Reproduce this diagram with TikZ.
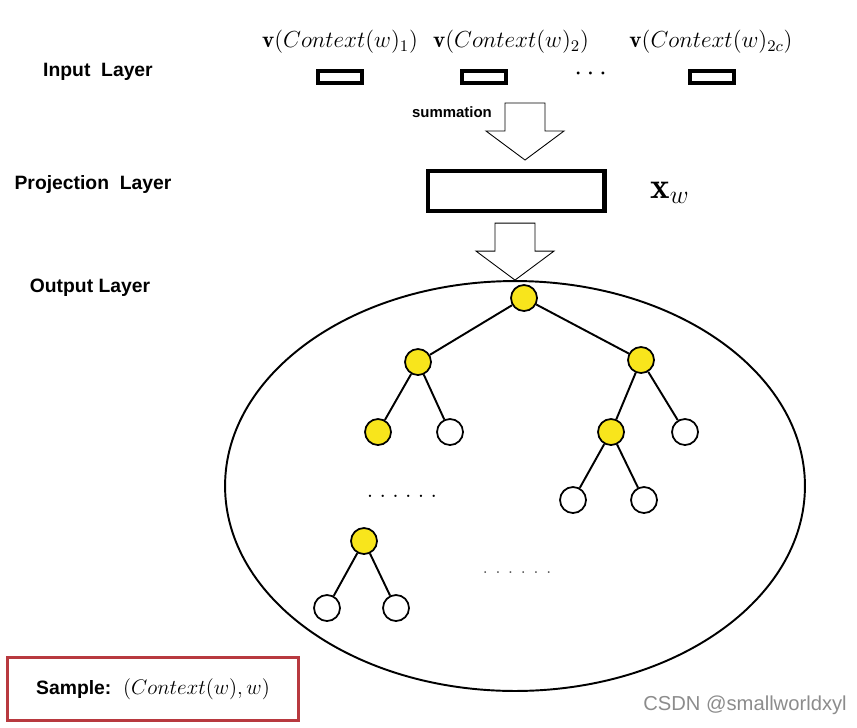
\RequirePackage{fix-cm}
\documentclass[tikz,border=0pt]{standalone}
\usepackage{fontspec}
\usepackage{amsmath}
\usepackage{tikz}
\usetikzlibrary{positioning,shapes.geometric,calc}
\newfontfamily\labelfont{Liberation Sans}
\definecolor{hsyellow}{HTML}{F8E51C}
\definecolor{samplered}{HTML}{B8393F}

\begin{document}
\begin{tikzpicture}[x=0.02cm, y=-0.02cm,
    layer/.style={font=\labelfont\bfseries\fontsize{11}{13}\selectfont},
    ctxlbl/.style={font=\fontsize{13.2}{15}\selectfont},
    inbox/.style={draw, line width=2.1pt, minimum width=0.88cm, minimum height=0.24cm, inner sep=0pt},
    hnode/.style={circle, draw, line width=1pt, minimum size=0.52cm, inner sep=0pt},
    onpath/.style={hnode, fill=hsyellow},
    leaf/.style={hnode, fill=white},
    branch/.style={line width=1.1pt},
    blockarrow/.style={draw, line width=0.5pt, fill=white}]
    \useasboundingbox (0,0) rectangle (857,727);

    % layer names
    \node[layer] (inlbl) at (98,72) {Input\ \ Layer};
    \node[layer] (projlbl) at (93,184) {Projection\ \ Layer};
    \node[layer] (outlbl) at (90,288) {Output Layer};

    % input layer
    \node[ctxlbl] (ctx1) at (340,42) {$\mathbf{v}(Context(w)_1)$};
    \node[ctxlbl] (ctx2) at (511,42) {$\mathbf{v}(Context(w)_2)$};
    \node[ctxlbl] (ctx3) at (711,42) {$\mathbf{v}(Context(w)_{2c})$};
    \foreach \i/\x in {1/340, 2/484, 3/712}
      \node[inbox] (in\i) at (\x,77) {};
    \node[font=\fontsize{16}{18}\selectfont] (indots) at (593,74) {$\cdots$};

    % projection layer
    \node[draw, line width=2.3pt, minimum width=3.54cm, minimum height=0.8cm] (proj) at (516,191) {};
    \node[font=\fontsize{21}{24}\selectfont] (xw) at (670,193) {$\mathbf{x}_w$};
    \node[font=\labelfont\bfseries\fontsize{8.5}{10}\selectfont] (sumlbl) at (452,112) {summation};

    % output layer
    \node[draw, ellipse, line width=1.1pt, minimum width=11.6cm, minimum height=8.2cm] (outer) at (515,486) {};

    \coordinate (tip1) at (525,160);
    \coordinate (tip2) at (outer.north);
    \foreach \t in {tip1,tip2}
      \draw[blockarrow] ($(\t)+(-20,-57)$) -- ($(\t)+(20,-57)$) -- ($(\t)+(20,-29)$)
        -- ($(\t)+(39,-29)$) -- (\t) -- ($(\t)+(-39,-29)$) -- ($(\t)+(-20,-29)$) -- cycle;

    % huffman tree
    \node[onpath] (r) at (524,298) {};
    \node[onpath] (a) at (418,362) {};
    \node[onpath] (b) at (641,360) {};
    \node[onpath] (aa) at (378,432) {};
    \node[leaf] (ab) at (450,432) {};
    \node[onpath] (ba) at (611,432) {};
    \node[leaf] (bb) at (685,432) {};
    \node[leaf] (baa) at (573,500) {};
    \node[leaf] (bab) at (644,500) {};
    \node[onpath] (c) at (364,541) {};
    \node[leaf] (ca) at (327,608) {};
    \node[leaf] (cb) at (396,608) {};
    \draw[branch] (r) -- (a) (r) -- (b) (a) -- (aa) (a) -- (ab) (b) -- (ba) (b) -- (bb)
      (ba) -- (baa) (ba) -- (bab) (c) -- (ca) (c) -- (cb);
    \node[anchor=base, font=\fontsize{8.5}{10}\selectfont] (dotsA) at (402,497) {\bfseries . . . . . .};
    \node[anchor=base, text=black!70] (dotsB) at (517,573) {. . . . . .};

    % sample
    \node[draw=samplered, line width=2.2pt, minimum width=5.82cm, minimum height=1.26cm] (sample) at (153,689)
      {{\labelfont\bfseries\fontsize{11}{13}\selectfont Sample:}\ \ {\fontsize{12}{15}\selectfont$(Context(w),w)$}};
    \node[text=black!45, font=\labelfont\fontsize{11.5}{14}\selectfont] (mark) at (745,705) {CSDN @smallworldxyl};
\end{tikzpicture}
\end{document}
